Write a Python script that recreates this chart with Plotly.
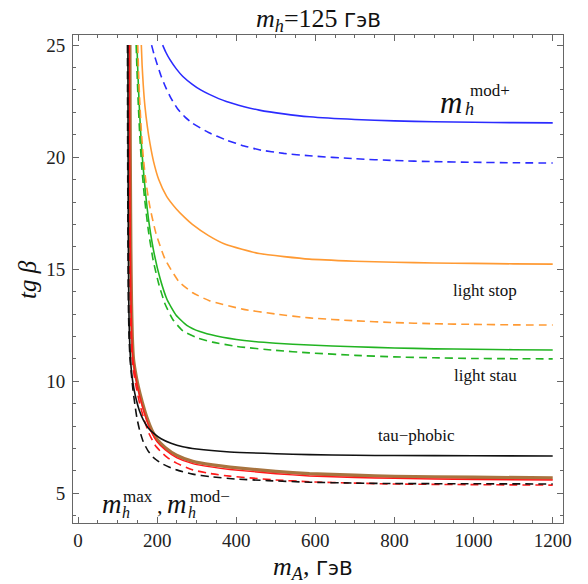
import plotly.graph_objects as go

# ---------------- data (m_A in GeV, tan beta) ----------------
blue_solid_x = [214, 222, 232, 248, 265, 289, 310, 332, 375, 420, 458, 520, 585, 700, 800, 900, 1000, 1100, 1200]
blue_solid_y = [25.0, 24.68, 24.36, 23.95, 23.6, 23.25, 23.0, 22.8, 22.48, 22.25, 22.1, 21.93, 21.8, 21.68, 21.62, 21.58, 21.56, 21.54, 21.53]

blue_dash_x = [186, 192, 200, 210, 222, 236, 252, 270, 289, 330, 374, 420, 458, 520, 585, 700, 800, 900, 1000, 1100, 1200]
blue_dash_y = [25.0, 24.6, 24.15, 23.62, 23.1, 22.6, 22.15, 21.8, 21.52, 21.1, 20.77, 20.5, 20.33, 20.17, 20.06, 19.93, 19.85, 19.8, 19.77, 19.75, 19.74]

orange_solid_x = [160, 162, 165, 169, 175, 182, 191, 204, 224, 248, 270, 289, 330, 374, 458, 585, 700, 800, 900, 1000, 1100, 1200]
orange_solid_y = [25.0, 24.1, 23.2, 22.3, 21.4, 20.6, 19.8, 19.0, 18.25, 17.7, 17.3, 17.0, 16.5, 16.1, 15.7, 15.45, 15.36, 15.31, 15.28, 15.26, 15.24, 15.23]

orange_dash_x = [151, 153, 156, 160, 165, 172, 182, 197, 220, 255, 290, 332, 416, 500, 585, 700, 800, 900, 1000, 1100, 1200]
orange_dash_y = [25.0, 23.8, 22.5, 21.2, 20.0, 18.85, 17.75, 16.6, 15.45, 14.45, 13.95, 13.6, 13.22, 13.0, 12.83, 12.7, 12.62, 12.57, 12.54, 12.52, 12.51]

green_solid_x = [149, 151, 154, 158, 163, 170, 180, 193, 208, 225, 248, 275, 308, 350, 420, 500, 585, 700, 800, 900, 1000, 1100, 1200]
green_solid_y = [25.0, 23.9, 22.6, 21.2, 19.9, 18.5, 17.0, 15.65, 14.55, 13.65, 12.95, 12.5, 12.22, 12.02, 11.82, 11.7, 11.62, 11.54, 11.49, 11.45, 11.43, 11.41, 11.4]

green_dash_x = [147, 149, 152, 156, 161, 168, 178, 190, 204, 220, 240, 265, 300, 340, 400, 500, 585, 700, 800, 900, 1000, 1100, 1200]
green_dash_y = [25.0, 23.9, 22.5, 21.0, 19.6, 18.2, 16.7, 15.4, 14.35, 13.45, 12.75, 12.25, 11.95, 11.75, 11.56, 11.38, 11.27, 11.16, 11.09, 11.05, 11.02, 11.01, 11.0]

black_solid_x = [126, 126.3, 126.7, 127.3, 128.3, 130, 132.5, 136, 141, 147, 155, 165, 177, 190, 210, 235, 265, 300, 384, 500, 585, 700, 800, 1000, 1200]
black_solid_y = [25.0, 22.0, 19.0, 16.0, 13.5, 12.0, 11.0, 10.3, 9.7, 9.2, 8.7, 8.28, 7.93, 7.7, 7.44, 7.24, 7.08, 6.98, 6.85, 6.77, 6.73, 6.7, 6.69, 6.68, 6.67]

black_dash_x = [125, 125.3, 125.7, 126.3, 127.3, 129, 131.5, 135, 139, 143.5, 149, 156, 165, 177, 192, 210, 230, 249, 290, 333, 400, 480, 585, 700, 800, 1000, 1200]
black_dash_y = [25.0, 22.0, 19.0, 16.0, 13.5, 12.0, 11.0, 10.3, 9.6, 9.0, 8.35, 7.8, 7.3, 6.9, 6.58, 6.35, 6.18, 6.05, 5.86, 5.75, 5.64, 5.57, 5.5, 5.46, 5.44, 5.43, 5.42]

brown_x = [131, 131.5, 132.2, 133.3, 135, 137, 140, 144, 152, 162, 174, 186, 200, 220, 249, 290, 340, 384, 500, 585, 700, 800, 1000, 1200]
brown_y = [25.0, 22.0, 19.0, 16.0, 13.5, 12.0, 11.0, 10.5, 9.77, 9.08, 8.38, 7.84, 7.4, 7.05, 6.7, 6.43, 6.27, 6.17, 5.98, 5.88, 5.81, 5.76, 5.72, 5.69]

red_solid_x = [130, 130.5, 131.2, 132.3, 134, 136, 139, 143, 151, 161, 173, 185, 200, 220, 249, 290, 340, 384, 500, 585, 700, 800, 1000, 1200]
red_solid_y = [25.0, 22.0, 19.0, 16.0, 13.5, 12.0, 11.0, 10.5, 9.72, 9.0, 8.3, 7.75, 7.3, 6.95, 6.6, 6.33, 6.17, 6.07, 5.88, 5.78, 5.71, 5.67, 5.62, 5.6]

red_dash_x = [128, 128.5, 129.2, 130.3, 132, 134, 137, 140, 147, 156, 167, 180, 195, 210, 230, 249, 290, 340, 384, 500, 585, 700, 800, 1000, 1200]
red_dash_y = [25.0, 22.0, 19.0, 16.0, 13.5, 12.0, 11.0, 10.5, 9.75, 9.0, 8.3, 7.65, 7.15, 6.85, 6.55, 6.35, 6.05, 5.87, 5.77, 5.6, 5.52, 5.46, 5.42, 5.39, 5.37]

x_ticks = [0, 200, 400, 600, 800, 1000, 1200]
y_ticks = [5, 10, 15, 20, 25]

SERIF = "Liberation Serif"
SANS = "DejaVu Sans"

fig = go.Figure()

def add(x, y, color, dash="solid", width=1.6):
    fig.add_trace(go.Scatter(x=x, y=y, mode="lines",
                             line=dict(color=color, dash=dash, width=width, shape="spline", smoothing=0.5),
                             hoverinfo="skip", showlegend=False))

DASH = "8px,5px"
add(brown_x, brown_y, "#a8743f", width=3.4)
add(red_solid_x, red_solid_y, "#ff1a1a", width=1.4)
add(red_dash_x, red_dash_y, "#ff1a1a", DASH)
add(black_dash_x, black_dash_y, "#111111", DASH)
add(black_solid_x, black_solid_y, "#111111")
add(green_dash_x, green_dash_y, "#22b422", DASH)
add(green_solid_x, green_solid_y, "#22b422")
add(orange_dash_x, orange_dash_y, "#ff9a33", DASH)
add(orange_solid_x, orange_solid_y, "#ff9a33")
add(blue_dash_x, blue_dash_y, "#2b2bff", DASH)
add(blue_solid_x, blue_solid_y, "#2b2bff")

axis_common = dict(
    showgrid=False, zeroline=False, showline=True, linecolor="#666666", linewidth=1,
    mirror="allticks", ticks="inside", ticklen=6, tickcolor="#666666",
    tickfont=dict(family=SERIF, size=19, color="#222222"),
)
fig.update_xaxes(range=[-12.7, 1226], tickvals=x_ticks, ticklabelstandoff=0,
                 minor=dict(dtick=50, tick0=0, ticks="inside", ticklen=3, tickcolor="#666666"),
                 **axis_common)
fig.update_yaxes(range=[3.68, 25.45], tickvals=y_ticks, ticklabelstandoff=3,
                 minor=dict(dtick=1, tick0=0, ticks="inside", ticklen=3, tickcolor="#666666"),
                 **axis_common)

ann = []
def text(x, y, t, size, xref="x", yref="y", xanchor="center", yanchor="middle", angle=0, family=SERIF):
    ann.append(dict(x=x, y=y, xref=xref, yref=yref, text=t, showarrow=False,
                    xanchor=xanchor, yanchor=yanchor, textangle=angle,
                    font=dict(family=family, size=size, color="#111111")))

# title
text(0.5, 1.03, "<i>m</i><sub><i>h</i></sub>=125 <span style='font-family:DejaVu Sans;font-size:20px'>ГэВ</span>", 26,
     xref="paper", yref="paper")
# axis titles
text(0.49, -0.093, "<i>m</i><sub><i>A</i></sub>, <span style='font-family:DejaVu Sans;font-size:20px'>ГэВ</span>", 26,
     xref="paper", yref="paper")
text(-0.094, 0.5, "<i>tg β</i>", 25, xref="paper", yref="paper", angle=-90)

# curve labels
text(1030, 14.07, "light stop", 17)
text(1030, 10.24, "light stau", 17)
text(855, 7.6, "tau−phobic", 17)

# m_h^{mod+}
text(911, 22.44, "<i>m</i>", 31, xanchor="left")
text(974, 22.15, "<i>h</i>", 18, xanchor="left")
text(986, 22.96, "mod+", 17, xanchor="left")

# m_h^{max}, m_h^{mod-}
text(55, 4.51, "<i>m</i>", 27, xanchor="left")
text(106, 4.15, "<i>h</i>", 16, xanchor="left")
text(108, 4.88, "max", 17, xanchor="left")
text(207, 4.44, ",", 22)
text(220, 4.51, "<i>m</i>", 27, xanchor="left")
text(273, 4.15, "<i>h</i>", 16, xanchor="left")
text(278, 4.87, "mod−", 17, xanchor="left")

fig.update_layout(
    width=588, height=584,
    margin=dict(l=73, r=25, t=35, b=61),
    paper_bgcolor="white", plot_bgcolor="white",
    annotations=ann,
)

fig.write_html("out.html", config={"displayModeBar": False},
               post_script="document.body.style.margin='0px';")
